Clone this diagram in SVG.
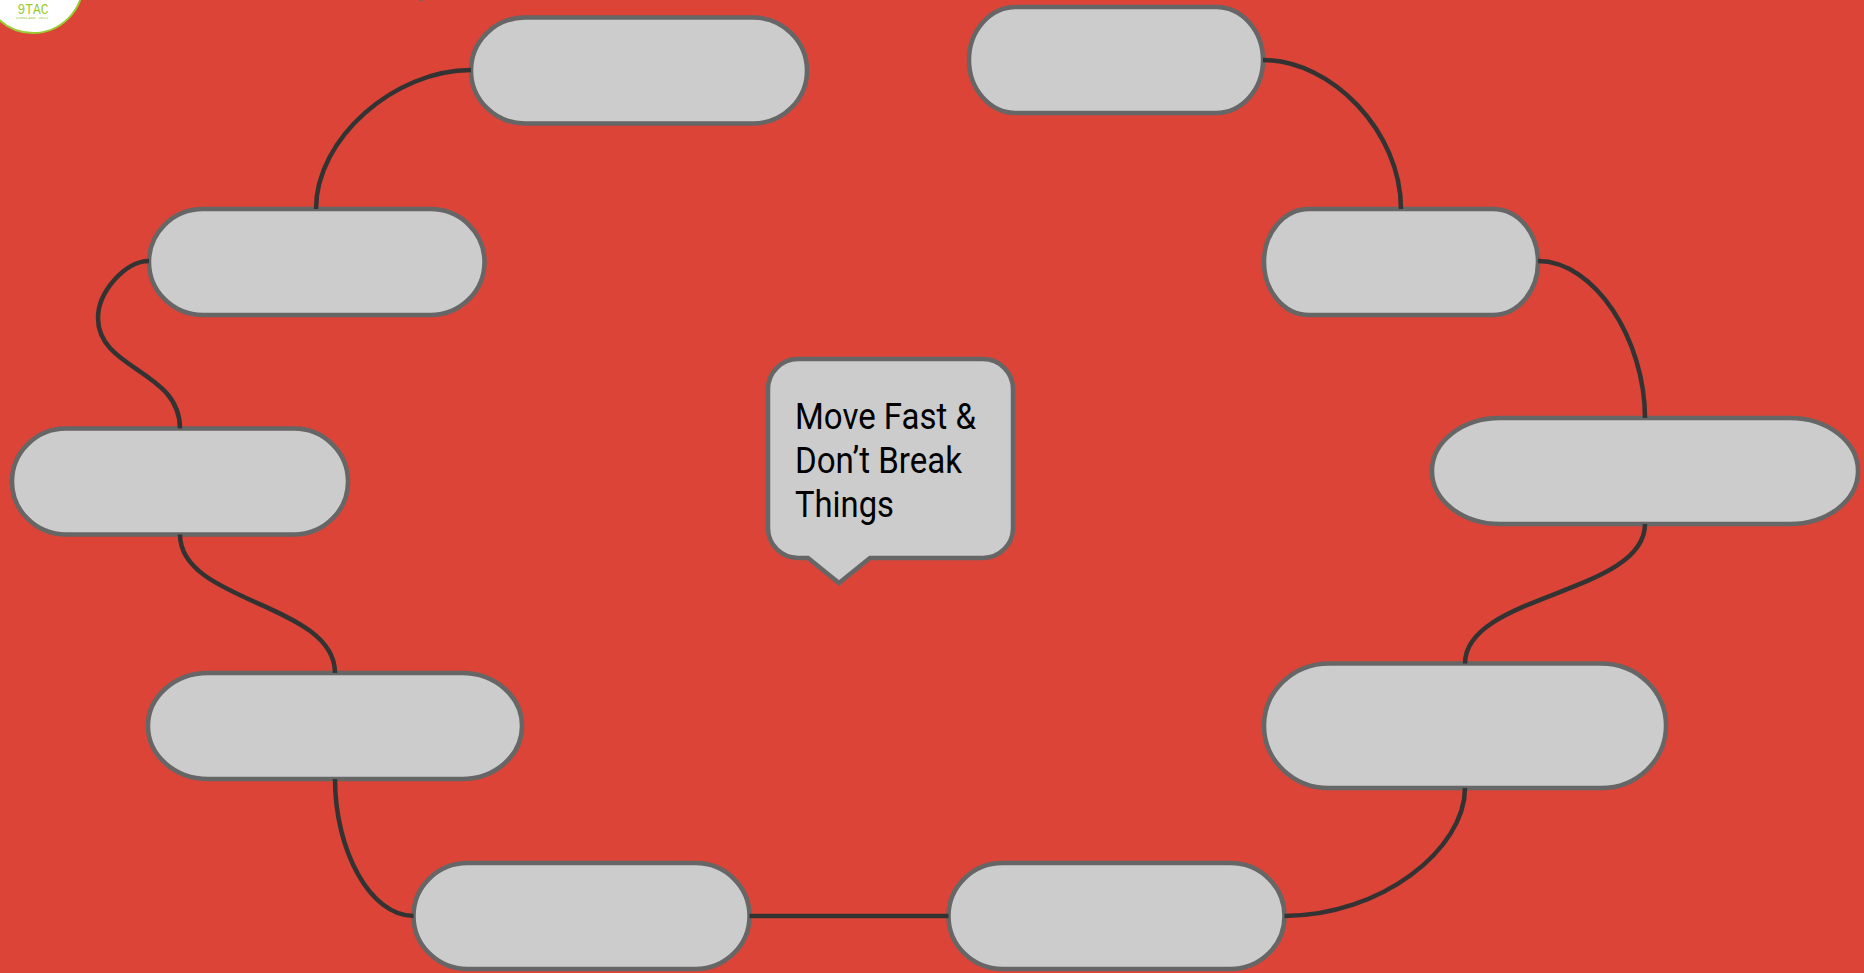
<svg xmlns="http://www.w3.org/2000/svg" width="1864" height="973" viewBox="0 0 1864 973">
<style>
.n{fill:#ccc;stroke:#666;stroke-width:4.500}
.c{fill:none;stroke:#333;stroke-width:4.500}
.t{font-family:Roboto,"Liberation Sans",sans-serif;font-size:36px;fill:#000}
.g{font-family:"Liberation Mono",monospace;fill:#9c3}
</style>
<rect id="background" width="1864" height="973" fill="#db4437"/>
<g id="logo">
<circle cx="33" cy="-17" r="50" fill="#fff" stroke="#9c3" stroke-width="2"/>
<text class="g" x="17.500" y="14" font-size="14" textLength="31" lengthAdjust="spacingAndGlyphs">9TAC</text>
<text class="g" x="16" y="18.500" font-size="4" textLength="32" lengthAdjust="spacingAndGlyphs">KIRKLAND 2014</text>
</g>
<circle id="speck" cx="421" cy="-2" r="3" fill="#666"/>
<g id="node-1"><rect class="n" x="471" y="17.500" width="336" height="106" rx="54" ry="53"/></g>
<g id="node-2"><rect class="n" x="149" y="209" width="335.500" height="106" rx="54" ry="53"/></g>
<g id="node-3"><rect class="n" x="12" y="428.500" width="336" height="106" rx="54" ry="53"/></g>
<g id="node-4"><rect class="n" x="148" y="673" width="374" height="106" rx="60" ry="53"/></g>
<g id="node-5"><rect class="n" x="413.500" y="863" width="336" height="106" rx="54" ry="53"/></g>
<g id="node-6"><rect class="n" x="948.500" y="863" width="336" height="106" rx="54" ry="53"/></g>
<g id="node-7"><rect class="n" x="1264" y="663.500" width="402" height="124.500" rx="65" ry="62.250"/></g>
<g id="node-8"><rect class="n" x="1432" y="418" width="426" height="106" rx="68" ry="53"/></g>
<g id="node-9"><rect class="n" x="1264" y="209" width="274" height="106" rx="45" ry="53"/></g>
<g id="node-10"><rect class="n" x="969" y="7" width="294" height="106" rx="47" ry="53"/></g>
<g id="connectors">
<path class="c" d="M316 209C316 138 395 70 471 70"/>
<path class="c" d="M149 261C125 261 98 292 98 318C98 370 180 370 180 428.500"/>
<path class="c" d="M180 534.500C180 603 335 603 335 673"/>
<path class="c" d="M335 779C335 850 370 916 413.500 916"/>
<path class="c" d="M749.500 916H948.500"/>
<path class="c" d="M1284.500 916C1380 916 1465 850 1465 788"/>
<path class="c" d="M1465 663.500C1465 594 1645 594 1645 524"/>
<path class="c" d="M1538 261C1595 261 1645 340 1645 418"/>
<path class="c" d="M1263 60C1332 60 1401 132 1401 209"/>
</g>
<g id="center">
<path class="n" d="M798 359H983A30 30 0 0 1 1013 389V528A30 30 0 0 1 983 558H870L839 583L808 558H798A30 30 0 0 1 768 528V389A30 30 0 0 1 798 359Z"/>
<text class="t" x="795" y="429" textLength="181" lengthAdjust="spacingAndGlyphs">Move Fast &amp;</text>
<text class="t" x="795" y="473" textLength="167" lengthAdjust="spacingAndGlyphs">Don’t Break</text>
<text class="t" x="795" y="517" textLength="99" lengthAdjust="spacingAndGlyphs">Things</text>
</g>
</svg>
